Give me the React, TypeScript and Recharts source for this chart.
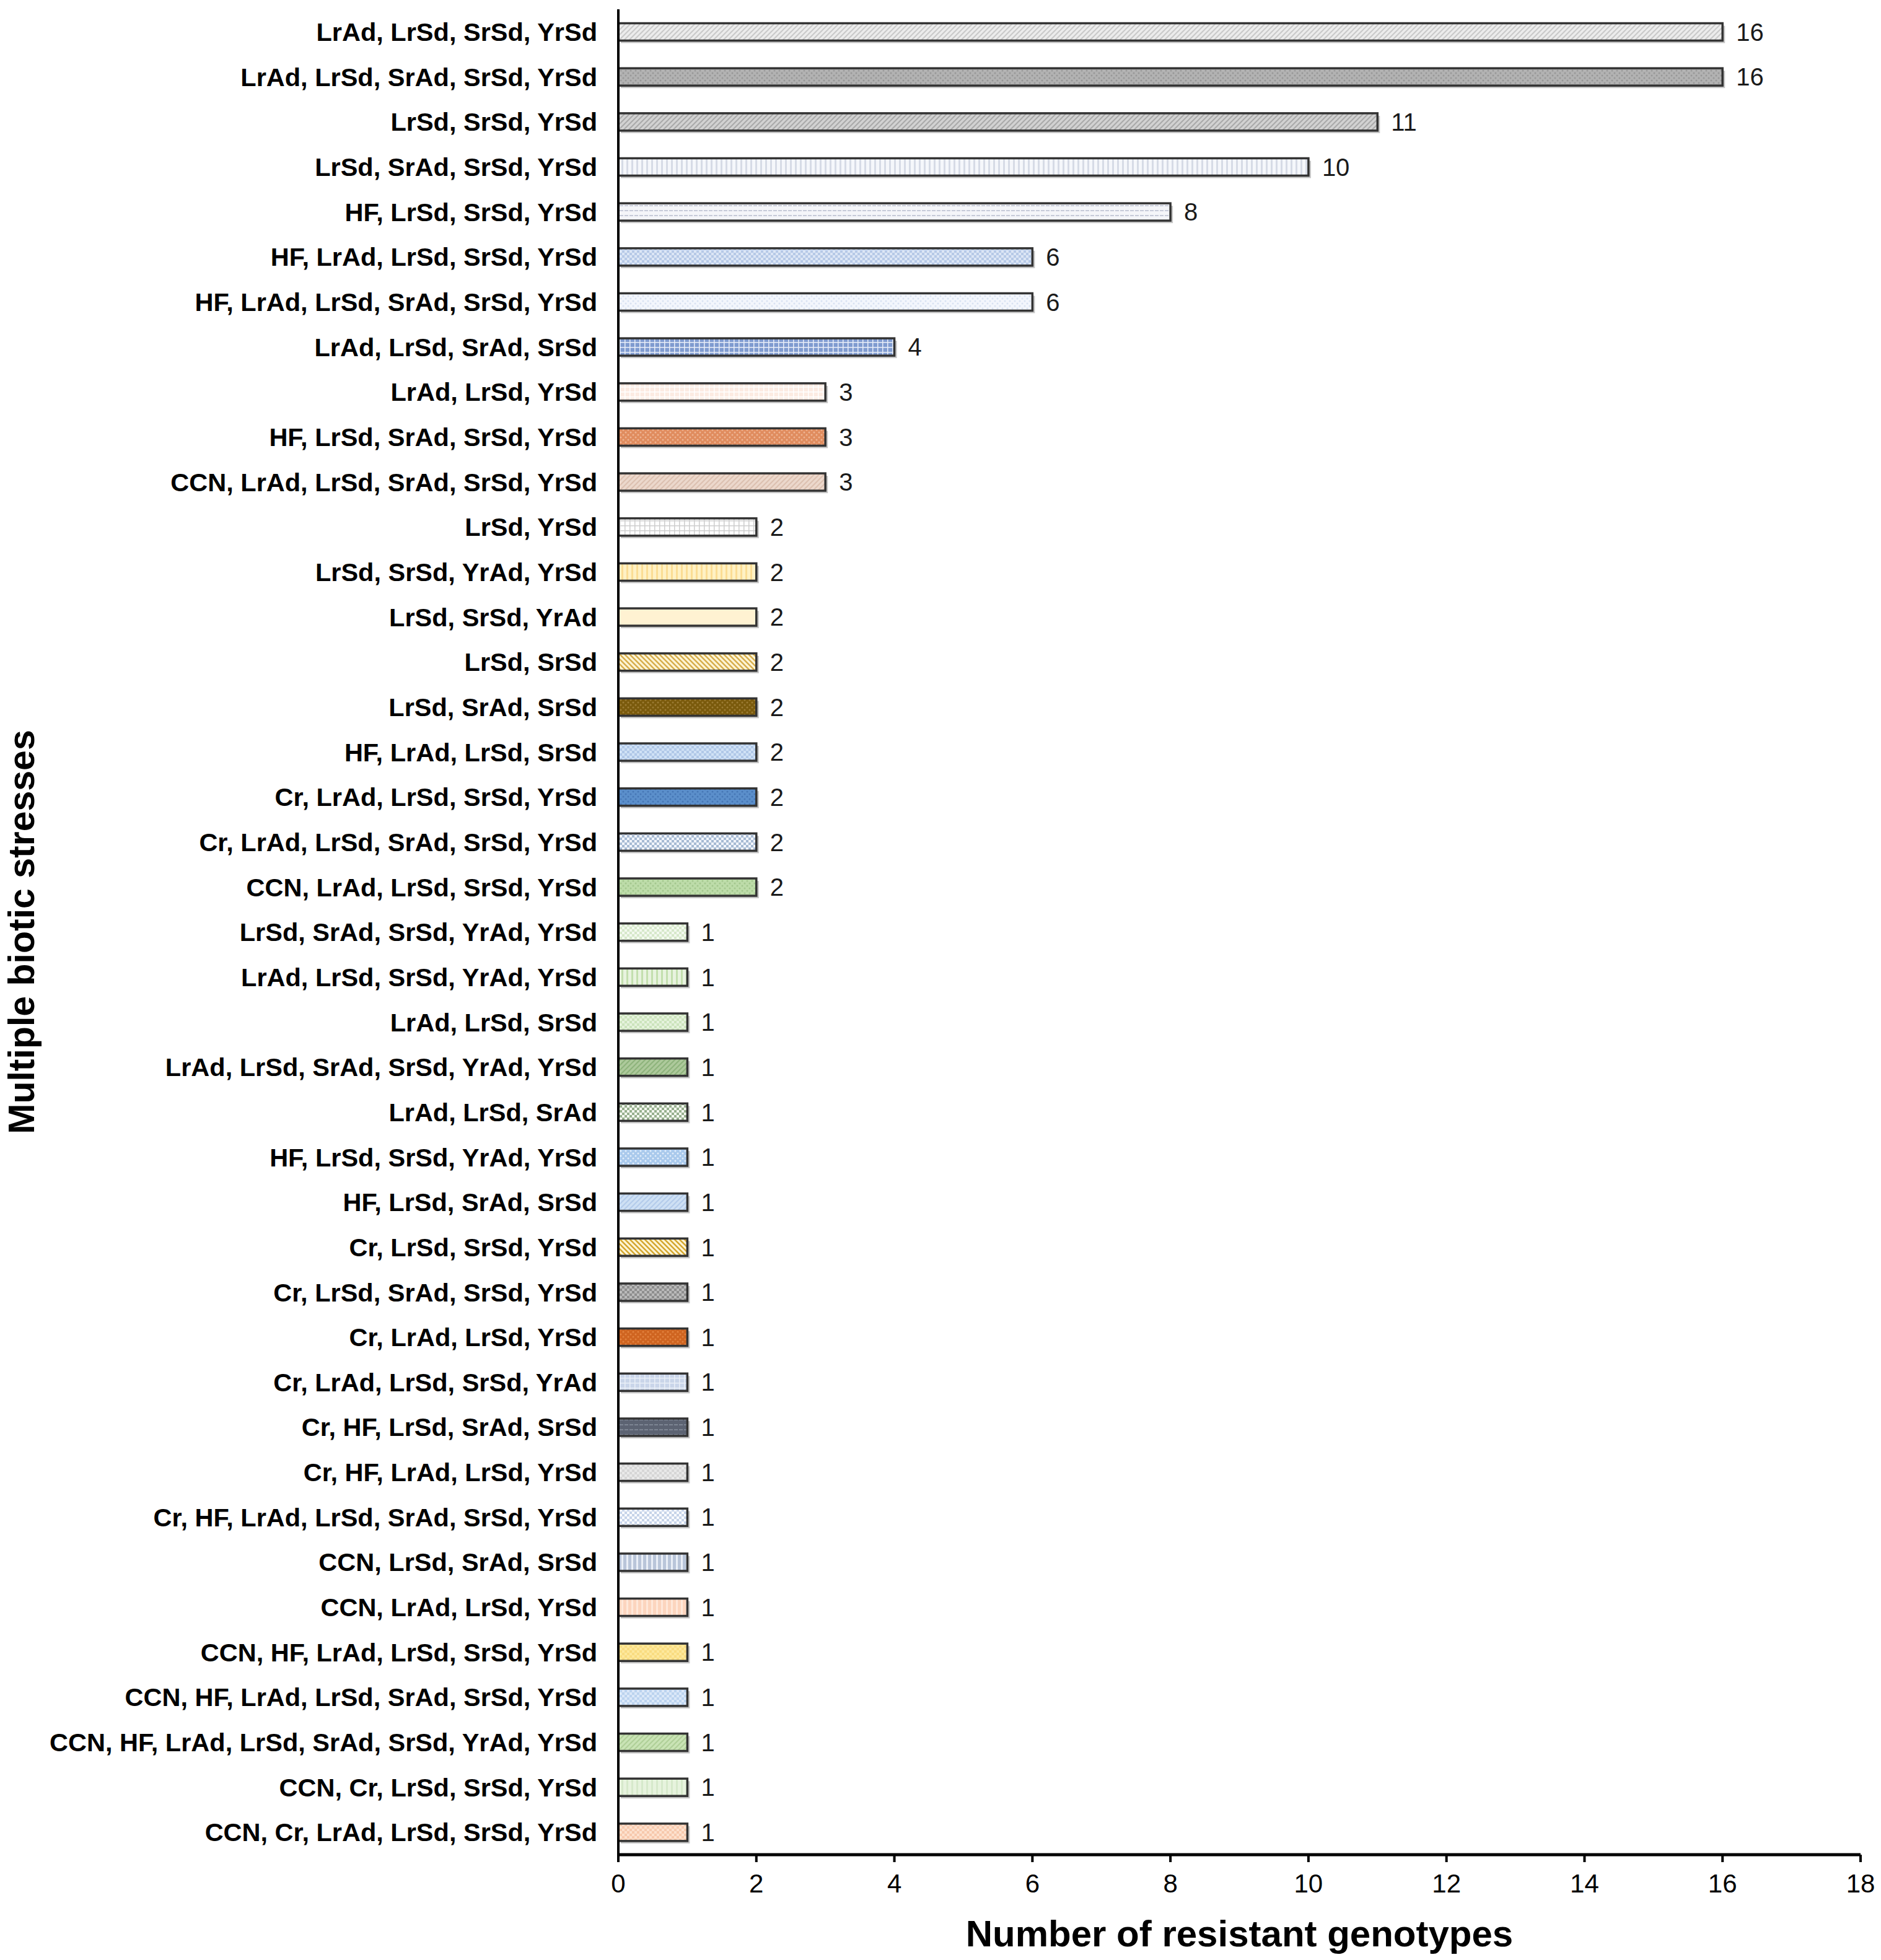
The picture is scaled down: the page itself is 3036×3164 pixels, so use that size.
import React from 'react';
import { BarChart, Bar, XAxis, YAxis, LabelList, Label } from 'recharts';

// stress combinations, top to bottom
const categories = [
  'LrAd, LrSd, SrSd, YrSd',
  'LrAd, LrSd, SrAd, SrSd, YrSd',
  'LrSd, SrSd, YrSd',
  'LrSd, SrAd, SrSd, YrSd',
  'HF, LrSd, SrSd, YrSd',
  'HF, LrAd, LrSd, SrSd, YrSd',
  'HF, LrAd, LrSd, SrAd, SrSd, YrSd',
  'LrAd, LrSd, SrAd, SrSd',
  'LrAd, LrSd, YrSd',
  'HF, LrSd, SrAd, SrSd, YrSd',
  'CCN, LrAd, LrSd, SrAd, SrSd, YrSd',
  'LrSd, YrSd',
  'LrSd, SrSd, YrAd, YrSd',
  'LrSd, SrSd, YrAd',
  'LrSd, SrSd',
  'LrSd, SrAd, SrSd',
  'HF, LrAd, LrSd, SrSd',
  'Cr, LrAd, LrSd, SrSd, YrSd',
  'Cr, LrAd, LrSd, SrAd, SrSd, YrSd',
  'CCN, LrAd, LrSd, SrSd, YrSd',
  'LrSd, SrAd, SrSd, YrAd, YrSd',
  'LrAd, LrSd, SrSd, YrAd, YrSd',
  'LrAd, LrSd, SrSd',
  'LrAd, LrSd, SrAd, SrSd, YrAd, YrSd',
  'LrAd, LrSd, SrAd',
  'HF, LrSd, SrSd, YrAd, YrSd',
  'HF, LrSd, SrAd, SrSd',
  'Cr, LrSd, SrSd, YrSd',
  'Cr, LrSd, SrAd, SrSd, YrSd',
  'Cr, LrAd, LrSd, YrSd',
  'Cr, LrAd, LrSd, SrSd, YrAd',
  'Cr, HF, LrSd, SrAd, SrSd',
  'Cr, HF, LrAd, LrSd, YrSd',
  'Cr, HF, LrAd, LrSd, SrAd, SrSd, YrSd',
  'CCN, LrSd, SrAd, SrSd',
  'CCN, LrAd, LrSd, YrSd',
  'CCN, HF, LrAd, LrSd, SrSd, YrSd',
  'CCN, HF, LrAd, LrSd, SrAd, SrSd, YrSd',
  'CCN, HF, LrAd, LrSd, SrAd, SrSd, YrAd, YrSd',
  'CCN, Cr, LrSd, SrSd, YrSd',
  'CCN, Cr, LrAd, LrSd, SrSd, YrSd',
];

const genotypeCounts = [
  16, 16, 11, 10, 8, 6, 6, 4, 3, 3, 3,
  2, 2, 2, 2, 2, 2, 2, 2, 2,
  1, 1, 1, 1, 1, 1, 1, 1, 1, 1, 1, 1, 1, 1, 1, 1, 1, 1, 1, 1, 1,
];

const xTicks = [0, 2, 4, 6, 8, 10, 12, 14, 16, 18];
const boundaryTicks = Array.from({ length: categories.length + 1 }, (_, i) => i);

// fill styles per bar: [background, pattern colour, pattern kind]
const barStyles: [string, string, string][] = [
  ['#ececec', '#c9c9c9', 'diag'],
  ['#b2b2b2', '#989898', 'dots'],
  ['#d2d2d2', '#a9a9a9', 'diag'],
  ['#f5f7fb', '#d6dbe6', 'vert'],
  ['#f4f5f9', '#c6cad8', 'horiz'],
  ['#dce6f5', '#b6c9e7', 'check'],
  ['#f3f6fc', '#d9e2f2', 'dots'],
  ['#7f9bd0', '#e8eef8', 'grid'],
  ['#fcebe2', '#ffffff', 'grid'],
  ['#e08c5e', '#eeb392', 'dots'],
  ['#ecd8cc', '#dcc0b0', 'diag'],
  ['#ffffff', '#cdcdcd', 'grid'],
  ['#fff1c4', '#fbdd94', 'vert'],
  ['#fff2d2', '#fff2d2', 'solid'],
  ['#fff5d6', '#d6ad4c', 'diagB'],
  ['#7a5a0c', '#9c7c34', 'dots'],
  ['#d0e1f5', '#b0c8e8', 'check'],
  ['#5b8fcb', '#4677b6', 'dots'],
  ['#f2f5fb', '#a6bad3', 'check'],
  ['#bddca9', '#a3c78e', 'dots'],
  ['#f3f9ef', '#d6e8ca', 'check'],
  ['#e8f3df', '#c3dfae', 'vert'],
  ['#e5f2dd', '#cce4bc', 'check'],
  ['#adc99b', '#8db37b', 'diag'],
  ['#f5f9f1', '#97af8e', 'check'],
  ['#a9c9ec', '#e2edfa', 'dots'],
  ['#cee0f4', '#b3cbea', 'diag'],
  ['#fff5d6', '#d3a62e', 'diagB'],
  ['#bababa', '#8e8e8e', 'check'],
  ['#cf6420', '#e2823f', 'dots'],
  ['#c9d5e9', '#eaeff7', 'grid'],
  ['#5c6372', '#7d8593', 'horiz'],
  ['#e9e9e9', '#d6d6d6', 'check'],
  ['#f9fbfe', '#c6d3e8', 'check'],
  ['#b9c5d9', '#eaeff7', 'vert'],
  ['#fcd5be', '#fee8da', 'vert'],
  ['#fde89d', '#f9dc80', 'check'],
  ['#dbe8f8', '#bbd3ef', 'check'],
  ['#c9e3b5', '#afcf97', 'diag'],
  ['#e7f3de', '#d6e9cb', 'vert'],
  ['#fde1ce', '#f7c9ad', 'check'],
];

const chartData = categories.map((name, i) => ({ name, value: genotypeCounts[i] }));

const FONT = '"Liberation Sans", Arial, Helvetica, sans-serif';

const patternBody = (bg: string, fg: string, kind: string) => {
  switch (kind) {
    case 'diag':
      return <><rect width={8} height={8} fill={bg} /><path d="M-2,2 l4,-4 M0,8 l8,-8 M6,10 l4,-4" stroke={fg} strokeWidth={2} /></>;
    case 'diagB':
      return <><rect width={8} height={8} fill={bg} /><path d="M-2,6 l4,4 M0,0 l8,8 M6,-2 l4,4" stroke={fg} strokeWidth={2.5} /></>;
    case 'vert':
      return <><rect width={8} height={8} fill={bg} /><rect x={3} width={3} height={8} fill={fg} /></>;
    case 'horiz':
      return <><rect width={8} height={8} fill={bg} /><rect y={3} width={6} height={2} fill={fg} /></>;
    case 'dots':
      return <><rect width={8} height={8} fill={bg} /><circle cx={2} cy={2} r={1.5} fill={fg} /><circle cx={6} cy={6} r={1.5} fill={fg} /></>;
    case 'grid':
      return <><rect width={8} height={8} fill={bg} /><path d="M0,0.75 h8 M0.75,0 v8" stroke={fg} strokeWidth={1.5} /></>;
    case 'check':
      return <><rect width={8} height={8} fill={bg} /><rect width={4} height={4} fill={fg} /><rect x={4} y={4} width={4} height={4} fill={fg} /></>;
    default:
      return <rect width={8} height={8} fill={bg} />;
  }
};

const PatternBar = (props: any) => {
  const { x, y, width, height, index } = props;
  const [bg, fg, kind] = barStyles[index] || ['#ddd', '#ddd', 'solid'];
  const id = `barfill-${index}`;
  return (
    <g>
      <defs>
        <pattern id={id} width={8} height={8} patternUnits="userSpaceOnUse">
          {patternBody(bg, fg, kind)}
        </pattern>
      </defs>
      <rect x={x + 4} y={y + 4} width={width} height={height} fill="#c4c4c4" />
      <rect x={x} y={y} width={width} height={height} fill={`url(#${id})`} stroke="#333" strokeWidth={3.5} />
    </g>
  );
};

const XTitle = (props: any) => {
  const { x, y, width } = props.viewBox;
  return (
    <text x={x + width / 2} y={y + 148} textAnchor="middle" fontFamily={FONT} fontWeight="bold" fontSize={60} fill="#000">
      Number of resistant genotypes
    </text>
  );
};

const YTitle = (props: any) => {
  const { y, height } = props.viewBox;
  const cx = 55;
  const cy = y + height / 2;
  return (
    <text x={cx} y={cy} transform={`rotate(-90, ${cx}, ${cy})`} textAnchor="middle" fontFamily={FONT} fontWeight="bold" fontSize={59} fill="#000">
      Multiple biotic stresses
    </text>
  );
};

export default function App() {
  return (
    <div style={{ position: 'absolute', left: 0, top: 0, background: '#fff' }}>
      <BarChart
        width={3036}
        height={3164}
        data={chartData}
        layout="vertical"
        margin={{ top: 15, right: 33, bottom: 0, left: 0 }}
        barCategoryGap="31%"
      >
        <YAxis
          yAxisId="bounds"
          type="number"
          domain={[0, categories.length]}
          ticks={boundaryTicks}
          allowDataOverflow
          width={0}
          tick={false}
          tickSize={12}
          axisLine={false}
          tickLine={{ stroke: '#000', strokeWidth: 3 }}
        />
        <YAxis
          yAxisId="cat"
          type="category"
          dataKey="name"
          width={998}
          interval={0}
          tickLine={false}
          tickSize={12}
          tickMargin={22}
          axisLine={{ stroke: '#000', strokeWidth: 4 }}
          tick={{ fontSize: 41.5, fontWeight: 'bold', fill: '#000', fontFamily: FONT }}
        >
          <Label content={YTitle} />
        </YAxis>
        <XAxis
          type="number"
          domain={[0, 18]}
          ticks={xTicks}
          height={170}
          tickSize={12}
          tickMargin={19}
          axisLine={{ stroke: '#000', strokeWidth: 5 }}
          tickLine={{ stroke: '#000', strokeWidth: 4 }}
          tick={{ fontSize: 42, fill: '#000', fontFamily: FONT }}
        >
          <Label content={XTitle} />
        </XAxis>
        <Bar yAxisId="cat" dataKey="value" shape={PatternBar} isAnimationActive={false}>
          <LabelList dataKey="value" position="right" offset={22} style={{ fontSize: 40, fill: '#1a1a1a', fontFamily: FONT }} />
        </Bar>
      </BarChart>
    </div>
  );
}
